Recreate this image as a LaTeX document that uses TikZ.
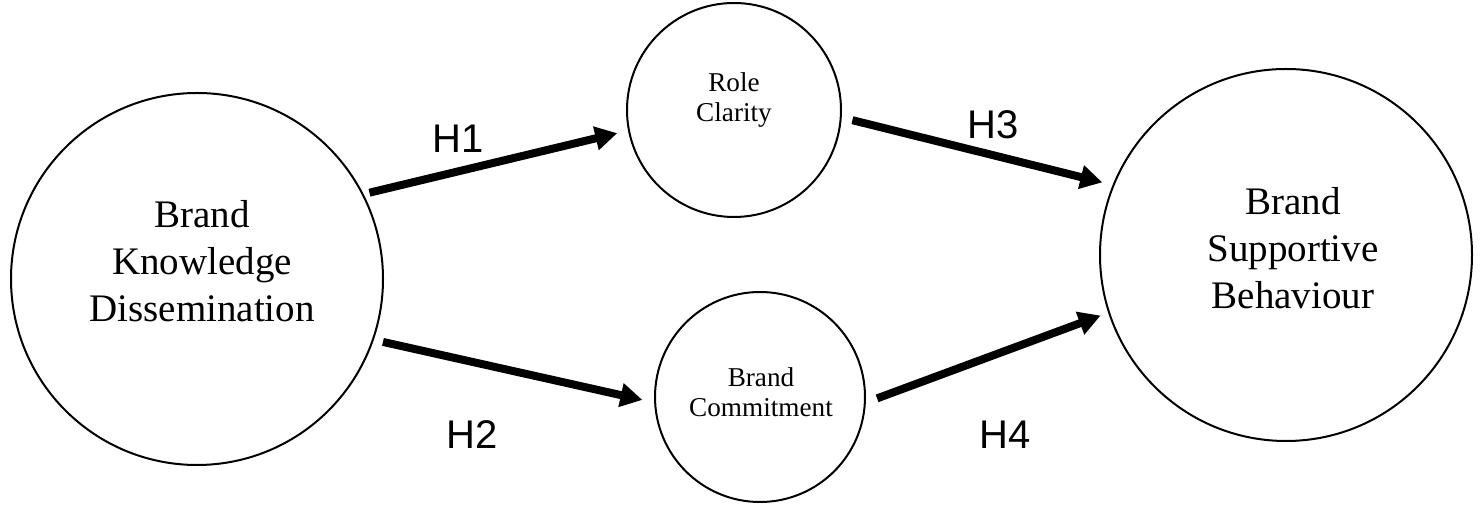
\documentclass[tikz,border=0pt]{standalone}
\usepackage{fontspec}
\setmainfont{Liberation Serif}
\setsansfont{Liberation Sans}
\usetikzlibrary{arrows.meta}

\tikzset{
  construct/.style={draw, circle, line width=1pt, inner sep=0pt},
  bigname/.style={align=center, font=\fontsize{19.5}{23.5}\selectfont},
  smallname/.style={align=center, font=\fontsize{13.6}{15}\selectfont},
  hyp/.style={-{Triangle[length=11pt, width=11.5pt]}, line width=4pt},
  hyplabel/.style={font=\sffamily\fontsize{20}{24}\selectfont}
}

\begin{document}
\begin{tikzpicture}[x=0.5pt, y=-0.5pt]
  \useasboundingbox (0,0) rectangle (1483,506);
  % constructs
  \node[construct, minimum size=186pt] (bkd) at (197,279) {};
  \node[construct, minimum size=107pt] (rc) at (734,110) {};
  \node[construct, minimum size=105pt] (bc) at (760,397) {};
  \node[construct, minimum size=186pt] (bsb) at (1286,255) {};
  \node[bigname] (bkdname) at (202,261) {Brand\\Knowledge\\Dissemination};
  \node[smallname] (rcname) at (734,100) {Role\\Clarity};
  \node[smallname] (bcname) at (761,392) {Brand\\Commitment};
  \node[bigname] (bsbname) at (1293,248) {Brand\\Supportive\\Behaviour};
  % hypotheses
  \draw[hyp, shorten <=3pt, shorten >=5.5pt] (bkd.27) -- (rc.191);
  \draw[hyp, shorten <=4.7pt, shorten >=6pt] (bkd.-19) -- (bc.183);
  \draw[hyp, shorten <=5.5pt, shorten >=5.3pt] (rc.-4) -- (bsb.158.5);
  \draw[hyp, shorten <=6pt, shorten >=4pt] (bc.-3) -- (bsb.198.3);
  \node[hyplabel] (h1) at (458,139) {H1};
  \node[hyplabel] (h2) at (472,435) {H2};
  \node[hyplabel] (h3) at (993,125) {H3};
  \node[hyplabel] (h4) at (1005,435) {H4};
\end{tikzpicture}
\end{document}
